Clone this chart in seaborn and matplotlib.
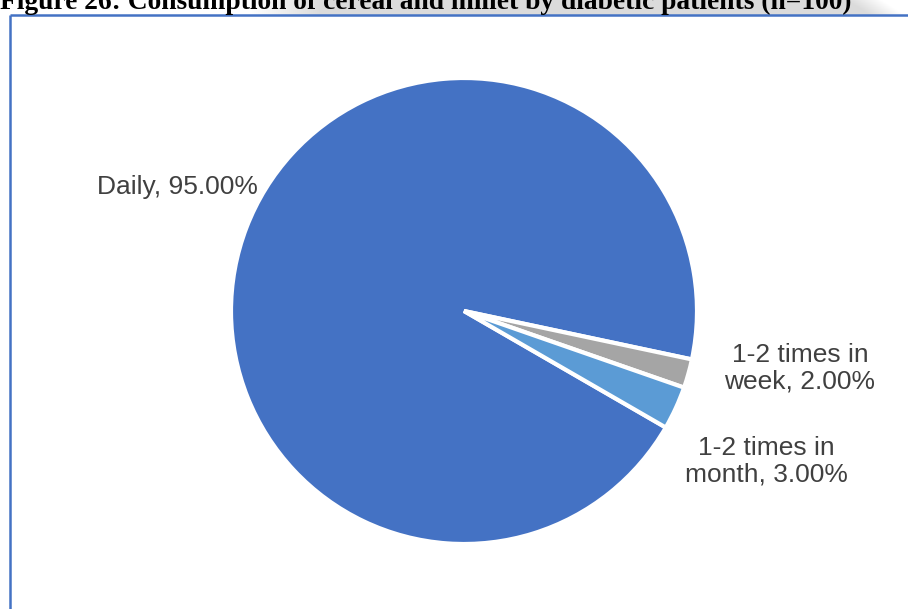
import numpy as np
import matplotlib
matplotlib.use("Agg")
import matplotlib.pyplot as plt
import seaborn as sns

# Consumption frequency shares (%)
categories = ["Daily", "1-2 times in\nweek", "1-2 times in\nmonth"]
shares = [95.0, 2.0, 3.0]
slice_colors = ["#4472C4", "#A5A5A5", "#5B9BD5"]
title = "Figure 26: Consumption of cereal and millet by diabetic patients (n=100)"

sns.set_style("white")
plt.rcParams["font.family"] = ["Liberation Sans", "DejaVu Sans"]

W, H = 908, 609
fig = plt.figure(figsize=(W / 100, H / 100), dpi=100)
fig.patch.set_facecolor("white")

# Light grey caption band behind the heading, fading in on the left and out on the right
band = fig.add_axes([0, 1 - 15 / H, 1, 15 / H])
band.set_axis_off()
xs = np.linspace(0, W, W)
ys = np.linspace(0, 15, 30)
X, Y = np.meshgrid(xs, ys)
fade_in = np.clip((X - 250) / 70, 0, 1)
fade_out = np.clip((905 - X - (15 - Y) * 1.5) / 35, 0, 1)
alpha = fade_in * fade_out
rgba = np.zeros(X.shape + (4,))
rgba[..., :3] = 0.86
rgba[..., 3] = alpha
band.imshow(rgba, extent=[0, W, 0, 15], aspect="auto", origin="upper")
band.set_xlim(0, W)
band.set_ylim(0, 15)

fig.text(0.0, 1 - 9 / H, title, family="Liberation Serif", fontweight="bold",
         fontsize=19.8, color="black", ha="left", va="baseline")

# Blue frame of the chart area (top and left edges visible)
frame = fig.add_axes([0, 0, 1, 1], facecolor="none")
frame.set_axis_off()
frame.set_xlim(0, W)
frame.set_ylim(H, 0)
frame.plot([10, W], [15, 15], color="#4472C4", lw=1.8, solid_capstyle="butt")
frame.plot([10, 10], [15, H], color="#4472C4", lw=1.8, solid_capstyle="butt")

# Pie
cx, cy, r = 464, 311, 233
ax = fig.add_axes([(cx - r) / W, (H - cy - r) / H, 2 * r / W, 2 * r / H])
ax.pie(shares, colors=slice_colors, startangle=-30, counterclock=False, radius=1,
       wedgeprops=dict(edgecolor="white", linewidth=3))
ax.set_xlim(-1, 1)
ax.set_ylim(-1, 1)
ax.set_axis_off()

label_pos = [(-1.232, 0.532), (1.442, -0.245), (1.296, -0.644)]
for name, val, (lx, ly) in zip(categories, shares, label_pos):
    ax.text(lx, ly, f"{name}, {val:.2f}%", ha="center", va="center",
            fontsize=19, color="#404040", linespacing=1.15, clip_on=False)

fig.savefig("out.png", dpi=100, facecolor="white")
